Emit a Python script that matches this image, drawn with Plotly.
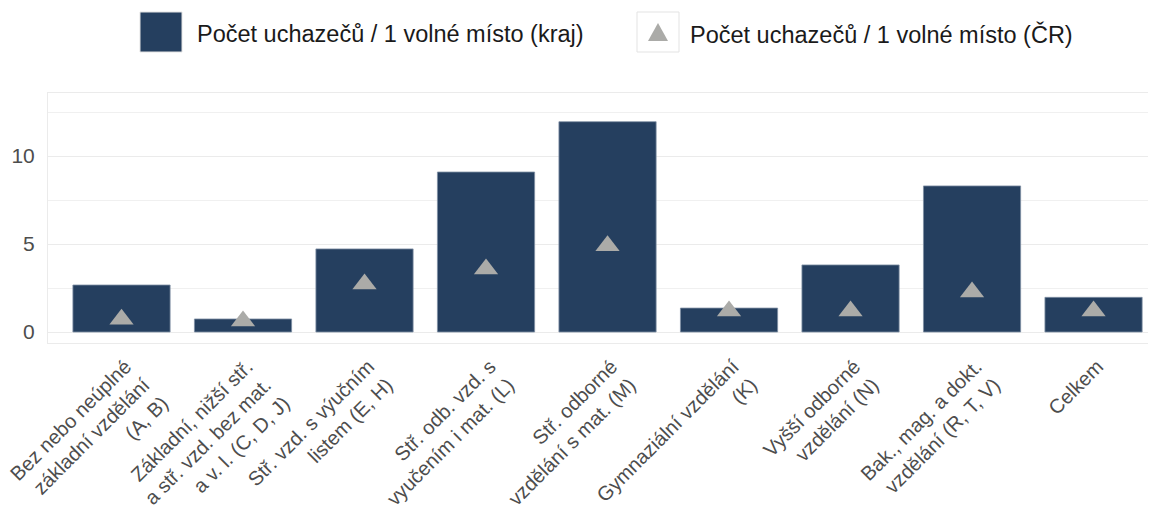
import plotly.graph_objects as go

categories = [
    "Bez nebo neúplné<br>základní vzdělání<br>(A, B)",
    "Základní, nižší stř.<br>a stř. vzd. bez mat.<br>a v. l. (C, D, J)",
    "Stř. vzd. s výučním<br>listem (E, H)",
    "Stř. odb. vzd. s<br>vyučením i mat. (L)",
    "Stř. odborné<br>vzdělání s mat. (M)",
    "Gymnaziální vzdělání<br>(K)",
    "Vyšší odborné<br>vzdělání (N)",
    "Bak., mag. a dokt.<br>vzdělání (R, T, V)",
    "Celkem",
]
kraj_values = [2.67, 0.74, 4.72, 9.09, 11.95, 1.36, 3.81, 8.30, 1.97]
cr_values = [0.72, 0.62, 2.73, 3.58, 4.90, 1.19, 1.19, 2.27, 1.19]
y_ticks = [0, 5, 10]
series_names = ["Počet uchazečů / 1 volné místo (kraj)", "Počet uchazečů / 1 volné místo (ČR)"]

BAR_COLOR = "#253F5F"
TRI_COLOR = "#ABABA8"

x_idx = list(range(len(categories)))

# the page body adds an 8px margin, so the figure is drawn 8px in from the corner
OFF = 8
W, H = 1156 - OFF, 518 - OFF
ML, MR, MT, MB = 40, 0, 85, 175
PW, PH = W - ML - MR, H - MT - MB


def px(x):  # reference-picture x pixel -> paper coordinate
    return (x - OFF - ML) / PW


def py(y):  # reference-picture y pixel -> paper coordinate
    return (H - MB - (y - OFF)) / PH


fig = go.Figure()
fig.add_trace(go.Bar(
    x=x_idx, y=kraj_values, name=series_names[0],
    marker=dict(color=BAR_COLOR, line=dict(color="#7F8FA3", width=0.8)),
    width=0.8, showlegend=False,
))
fig.add_trace(go.Scatter(
    x=x_idx, y=cr_values, mode="markers", name=series_names[1],
    marker=dict(symbol="triangle-up", size=21, color=TRI_COLOR),
    showlegend=False,
))

# custom legend (keys + labels)
shapes = [
    dict(type="rect", xref="paper", yref="paper",
         x0=px(140), x1=px(182), y0=py(52), y1=py(12),
         fillcolor=BAR_COLOR, line=dict(color="#E3E3E3", width=1)),
    dict(type="rect", xref="paper", yref="paper",
         x0=px(637), x1=px(679), y0=py(52), y1=py(12),
         fillcolor="white", line=dict(color="#E3E3E3", width=1)),
    dict(type="path", xref="paper", yref="paper",
         path=f"M {px(658)} {py(23)} L {px(668)} {py(41)} L {px(648)} {py(41)} Z",
         fillcolor=TRI_COLOR, line=dict(width=0)),
]
annotations = [
    dict(text=series_names[0], xref="paper", yref="paper", x=px(195), y=py(34),
         xanchor="left", yanchor="middle", showarrow=False,
         font=dict(size=23.5, color="#1A1A1A")),
    dict(text=series_names[1], xref="paper", yref="paper", x=px(688), y=py(34),
         xanchor="left", yanchor="middle", showarrow=False,
         font=dict(size=23.5, color="#1A1A1A")),
]

fig.update_layout(
    width=W, height=H,
    margin=dict(l=ML, r=MR, t=MT, b=MB, autoexpand=False),
    paper_bgcolor="white", plot_bgcolor="white",
    font=dict(family="Liberation Sans, Arial, sans-serif", size=21, color="#4D4D4D"),
    showlegend=False,
    shapes=shapes, annotations=annotations,
)
fig.update_xaxes(
    range=[-0.605, 8.514], automargin=False,
    tickmode="array", tickvals=x_idx, ticktext=categories,
    tickangle=-45, showgrid=False, zeroline=False,
    showline=True, mirror=True, linecolor="#EBEBEB", linewidth=1,
    ticks="", ticklabeloverflow="allow", ticklabelshift=4, ticklabelstandoff=3,
    tickfont=dict(size=20, color="#4D4D4D"),
)
fig.update_yaxes(
    range=[-0.625, 13.58], automargin=False,
    tickmode="array", tickvals=y_ticks,
    showgrid=True, gridcolor="#EBEBEB", gridwidth=1.2,
    minor=dict(tickvals=[2.5, 7.5, 12.5], showgrid=True, gridcolor="#F0F0F0", gridwidth=1),
    zeroline=False, showline=True, mirror=True, linecolor="#EBEBEB", linewidth=1,
    ticks="", ticklabelstandoff=8, tickfont=dict(size=21, color="#4D4D4D"),
)

fig.write_html("out.html")
